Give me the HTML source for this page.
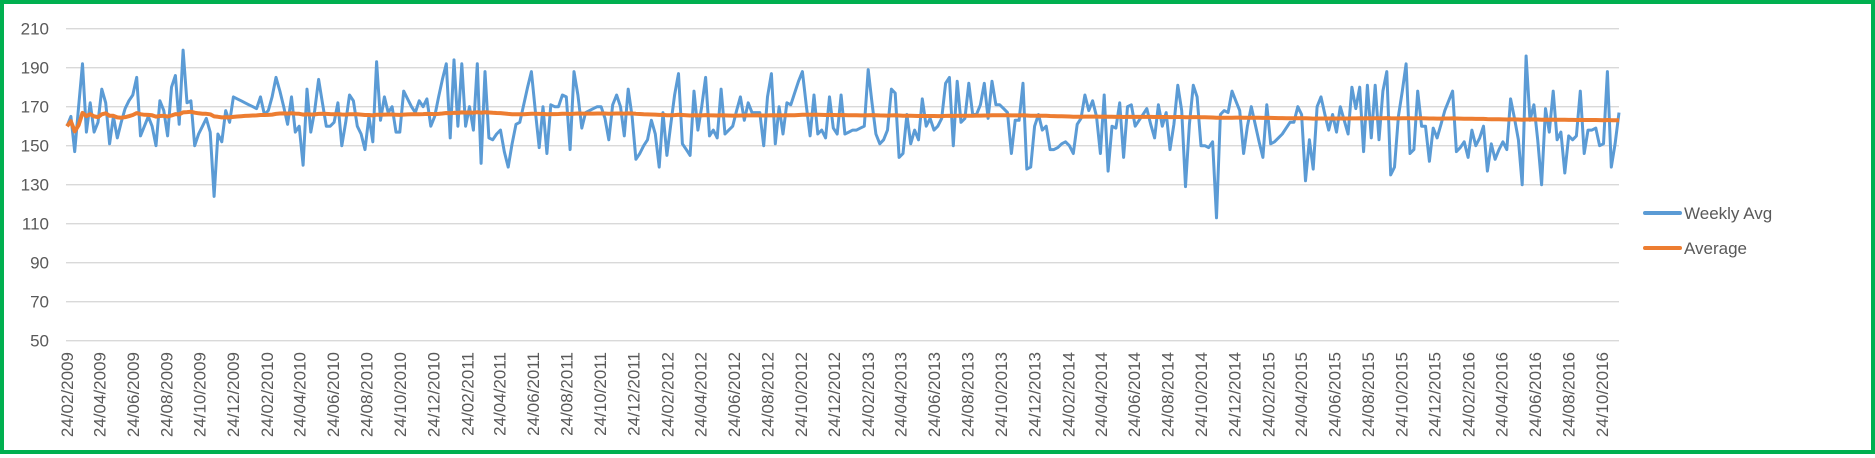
<!DOCTYPE html>
<html><head><meta charset="utf-8"><style>
html,body{margin:0;padding:0;background:#fff;}
#wrap{position:relative;width:1875px;height:454px;box-sizing:border-box;border:4px solid #00b050;background:#fff;}
svg{position:absolute;left:0;top:0;}
text{font-family:"Liberation Sans",sans-serif;fill:#595959;}
</style></head><body>
<div id="wrap">
<svg id="chart" width="1875" height="454"></svg>
</div>
<script>
const yTicks=[50,70,90,110,130,150,170,190,210];
const startDate=[2009,1,24];
const labelCount=47;
const seriesNames=["Weekly Avg","Average"];
const weekly=[
160,165,147,170,192,157,172,157,162,179,172,151,165,154,162,169,173,176,185,155,160,165,160,150,173,168,155,180,186,161,199,172,173,150,156,160,164,157,124,156,152,168,162,175,174,173,172,171,170,169,175,166,168,175,185,178,170,161,175,157,160,140,179,157,168,184,172,160,160,162,172,150,162,176,173,160,156,148,165,152,193,163,175,167,170,157,157,178,174,170,167,173,170,174,160,165,175,184,
192,154,194,160,192,160,170,158,192,141,188,154,153,156,158,147,139,151,161,162,171,180,188,168,149,170,146,171,170,170,176,175,148,188,176,159,167,168,169,170,170,164,153,171,176,170,155,179,165,143,146,150,153,163,156,139,167,145,161,176,187,151,148,145,178,158,170,185,155,158,154,179,156,158,160,168,175,163,172,167,167,167,150,175,187,151,170,156,172,171,177,183,188,171,155,176,156,158,154,175,159,156,
176,156,157,158,158,159,160,189,172,156,151,153,158,179,177,144,146,166,151,158,153,174,160,164,158,160,164,182,185,150,183,162,164,182,166,166,171,182,164,183,171,171,169,167,146,163,163,182,138,139,160,166,158,160,148,148,149,151,152,150,146,161,164,176,168,173,165,146,176,137,160,159,172,144,170,171,160,163,166,169,161,154,171,160,167,148,161,181,168,129,161,181,175,150,150,149,152,113,166,168,167,178,173,168,146,
160,170,161,152,144,171,151,152,154,156,159,162,162,170,166,132,153,138,170,175,166,158,166,157,170,163,156,180,169,180,147,181,154,181,153,178,188,135,139,165,178,192,146,148,178,160,160,142,159,154,161,168,173,178,147,149,152,144,158,150,154,160,137,151,143,148,152,148,174,164,153,130,196,163,171,153,130,169,157,178,153,157,136,155,153,155,178,146,158,158,159,150,151,188,139,151,167
];
const average=[];
{let s=0;for(let i=0;i<weekly.length;i++){s+=weekly[i];average.push(s/(i+1));}}

const NS="http://www.w3.org/2000/svg";
const svg=document.getElementById('chart');
const PL=62,PR=1615,PT=24.7,PB=336.7,YMIN=50,YMAX=210;
const t0=Date.UTC(startDate[0],startDate[1],startDate[2]);
const DAY=86400000;
const lastLabel=Date.UTC(2016,9,24);
const X0=63,X1=1598;
const pxPerDay=(X1-X0)/((lastLabel-t0)/DAY);
const xDays=d=>X0+d*pxPerDay;
const stepDays=((PR-X0)/pxPerDay)/(weekly.length-1);
const xIdx=i=>xDays(i*stepDays);
const y=v=>PB-(v-YMIN)/(YMAX-YMIN)*(PB-PT);
function el(tag,attrs){const e=document.createElementNS(NS,tag);for(const k in attrs)e.setAttribute(k,attrs[k]);svg.appendChild(e);return e;}

yTicks.forEach(v=>{
  const g=el('line',{x1:PL,x2:PR,y1:y(v),y2:y(v),stroke:'#d9d9d9','stroke-width':1.3});
  
  
  const t=el('text',{x:45,y:y(v)+6,'text-anchor':'end','font-size':17});
  t.textContent=v;
  
  
});
for(let k=0;k<labelCount;k++){
  const m=startDate[1]+2*k;
  const yr=startDate[0]+Math.floor(m/12), mo=m%12;
  const d=Date.UTC(yr,mo,24);
  const x=xDays((d-t0)/DAY);
  const lab=String(24)+'/'+String(mo+1).padStart(2,'0')+'/'+yr;
  const t=el('text',{x:0,y:0,'text-anchor':'end','font-size':17,transform:`translate(${x+6},348) rotate(-90)`});
  t.textContent=lab;
  
  
}
function pts(arr){return arr.map((v,i)=>xIdx(i).toFixed(1)+','+y(v).toFixed(1)).join(' ');}
const l1=el('polyline',{points:pts(weekly),fill:'none',stroke:'#5b9bd5','stroke-width':3,'stroke-linejoin':'round'});


const l2=el('polyline',{points:pts(average),fill:'none',stroke:'#ed7d31','stroke-width':4,'stroke-linejoin':'round'});



const legendColors=['#5b9bd5','#ed7d31'];
const legendY=[209,244];
seriesNames.forEach((n,i)=>{
  const ln=el('line',{x1:1641,x2:1676,y1:legendY[i],y2:legendY[i],stroke:legendColors[i],'stroke-width':4,'stroke-linecap':'round'});
  
  
  const t=el('text',{x:1680,y:legendY[i]+6,'font-size':17});
  t.textContent=n;
  
  
});
</script>
</body></html>
